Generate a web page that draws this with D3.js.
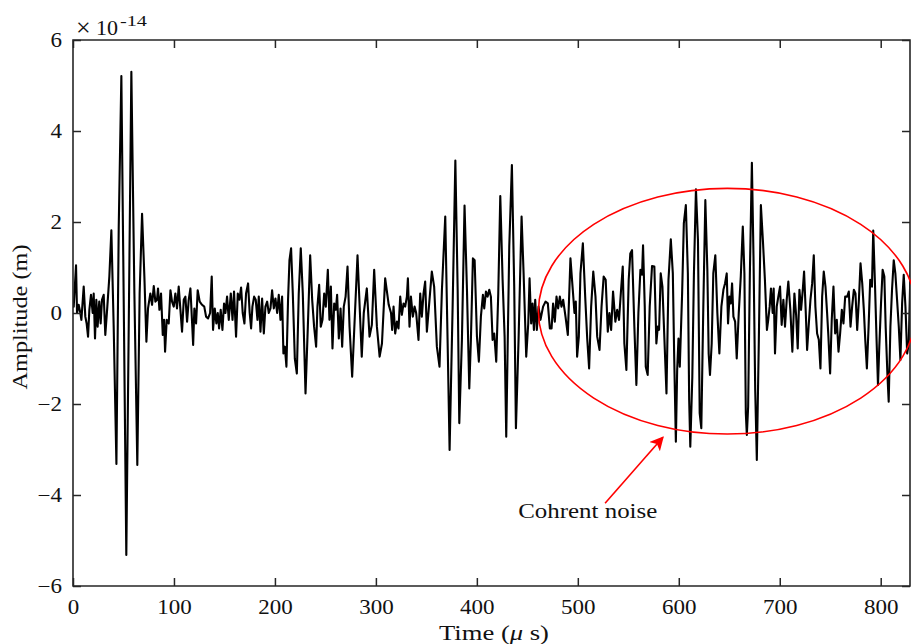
<!DOCTYPE html>
<html>
<head>
<meta charset="utf-8">
<script src="https://cdn.jsdelivr.net/npm/d3@7"></script>
<style>
  html, body { margin: 0; padding: 0; background: #fff; }
  svg { display: block; }
  text { font-family: "Liberation Serif", "Times New Roman", serif; fill: #111; }
</style>
</head>
<body>
<svg id="chart" width="911" height="644"></svg>
<script>
// ---- data (time in µs, amplitude in units of 1e-14 m) ----
const timeUs = [
0,0.7,3,4,5.6,7.3,8.3,10.6,12.2,13.5,14.9,16.2,17.8,19.5,20.5,21.8,23.1,24.4,26,27.4,28.7,30.4,32,34,36,38,40.3,43,45.3,47.9,50.5,52.8,55.2,57.8,60.8,63.7,66,68.4,70.7,72.7,74.3,76.6,78.3,80,81.6,83.2,84.2,85.6,87.2,88.9,90.2,91.2,92.8,94.8,96.5,98.1,99.8,101.4,103,104.7,106.4,108,109.7,111.3,113,114.6,116.3,118,119,120.2,121.9,123.5,125.5,127.8,130,131.8,133.8,135.8,137.4,138.7,140.4,142,143.4,144.7,146.3,148,149.6,151,152.6,154.3,156.3,158,159.5,161.5,163.2,164.8,166.5,168.1,169.8,171.4,173.4,175,176.4,177.7,179.4,181,182.7,184,185.7,187.3,189,190.6,192.3,193.9,195.6,197.2,198.9,200.5,202.2,203.8,205.5,207.1,208.4,209.8,211.4,213,214.4,216,217.7,219.7,221.7,223.6,225.6,227.6,230.3,232.6,234.9,236.9,238.8,240.8,242.1,243.8,245.4,247.1,248.8,250.4,252.4,254,255.4,257,258.7,260.3,261.6,263.3,265,266.6,268.2,270,271.9,273.9,276.5,
281.8,286,288,291,293.7,296,298.3,301,303.7,306,309.2,312.7,315,316.1,317.5,319.1,320.8,322.4,324.1,325.7,327.4,329,330.7,331.7,333.3,334.7,336.6,338.3,339.9,342.2,343.9,345.5,347.2,348.8,350.5,352.8,355.4,357.7,360.4,363,365.4,368.7,371,373,376,378.7,381,382.6,385.2,387.8,390.2,392.5,394.1,396.1,397.8,400.1,402,404,406,407.3,409,410.6,412.3,413.9,415.6,417.2,419.2,421.2,423.2,425.5,427.5,429.1,432.1,434.7,437,438.7,441.3,444.3,446.3,448.9,450.9,452.2,453.8,455.2,456.5,457.8,459.4,461.1,
463,465.6,468,470.3,472.3,474,475.5,477.2,478.9,480.5,482.2,483.8,485.5,487.8,490.1,492.7,495,496.7,498,499.3,501,502.6,505,507.3,509.3,511.2,513.2,515.3,517.5,519.2,521.5,523.5,525.6,527.6,529.7,531.3,533,534.9,537.2,539,540.8,542.8,544.5,546.1,548.1,550.4,552,
553.7,556,558,560,562,563.6,564.6,566.3,567.3,569.2,571.2,573.5,575.8,577.8,579.2,580.5,582.1,583.8,585.8,587.8,589.8,592.1,594.1,595.4,597.1,598.4,599.7,601,603.3,605,607,609,610.3,611.4,613.4,615,617,619,620.7,622.3,624.3,626.3,628.3,629.6,630.9,632.6,634.2,636.2,638.2,640.2,642.2,644.2,645.8,647.5,648.8,650.2,651.5,652.8,654.1,655.8,657.4,659.4,661.4,663.4,665,666.4,667.4,668.7,670.4,672.4,674,675.7,677.3,679.3,681.3,683.3,685.3,687.3,688.6,690,691.3,693,694,695.3,697,698.6,700.3,701.9,703.6,705.2,706.9,708.5,710.5,712.5,714.5,716.2,717.8,719.5,721.1,722.8,724.1,725.8,727.1,728.8,730.4,732.1,733.7,735.3,737,738.7,740.3,742,743.6,745.3,746.9,748.2,749.9,751.5,753.2,754.9,756.5,758.2,759.8,761.5,763.1,764.8,766.8,768.4,770.1,771.7,773.4,775,776.7,778.4,780,781.7,783.3,784.7,786.3,788,789.6,791.3,792.6,794.3,795.9,797.3,798.6,800.3,801.9,803.6,804.9,806.6,807.9,809.6,811.2,812.9,814.5,816.2,817.9,819.5,821.2,822.8,824.5,826.2,827.8,829.8,831
];
const amplitude = [
0.29,0.14,1.05,0,0.18,0,-0.15,0.58,-0.08,-0.23,-0.52,0.07,0.4,0,0.43,-0.56,0.29,-0.3,0.25,-0.23,0.29,0.4,-0.48,0.14,0.8,1.82,-0.3,-3.32,1.9,5.21,-0.3,-5.32,-0.3,5.3,0.43,-3.34,0.43,2.18,0.8,-0.63,0.1,0.43,0.18,0.59,0.25,0.29,0.54,0.07,0.43,-0.48,-0.15,-0.85,-0.15,-0.23,0.5,0.25,0.14,0.43,0.1,0.58,0.07,-0.41,0.29,0.36,-0.19,0.29,0.54,-0.23,-0.7,0.1,-0.23,0.5,0.25,0.18,0.14,-0.08,-0.12,0,0.8,-0.37,0.1,-0.23,0,-0.34,0.07,-0.37,0.21,0,0.36,-0.15,0.43,-0.15,0.47,-0.52,0.43,0.29,0.56,0,-0.23,0.43,0.65,0,-0.34,0.14,0.36,0.29,-0.15,0.36,-0.41,0.32,-0.45,0.14,0.25,0,0.1,0.5,0.1,0.32,0,0.4,-0.15,0.36,-0.89,-0.74,-1.18,0.29,1.16,1.42,0.43,-1.0,-1.33,0.43,1.42,0.43,-1.77,-0.3,1.27,0.29,-0.3,-0.74,0.14,0.62,-0.3,-0.15,0.43,0.14,0.95,-0.15,0.58,-0.78,0.21,0.07,0.4,-0.56,0.1,-0.74,0.14,0.36,1.02,-0.3,-1.4,
1.27,-0.96,0,0.54,-0.52,-0.26,0.95,-0.3,-0.96,-0.67,0.76,0.18,0,-0.37,0.14,-0.45,-0.19,-0.34,0.36,-0.04,0.21,0.14,0.36,0.76,-0.3,0.36,-0.08,0.14,0,-0.59,0.43,-0.08,0.43,0.69,-0.41,0.21,0.91,0.58,-0.74,-1.18,0.51,2.12,-0.59,-3.01,0.14,3.35,0.5,-2.42,-0.59,2.36,0.51,-1.66,-0.59,1.2,1.16,-0.52,-1.07,-0.08,0.4,0.1,0.47,0.36,0.51,0.36,-0.59,-0.45,-1.07,0.43,2.57,0.73,-0.52,-2.72,1.46,3.25,0.58,-2.53,-0.59,2.12,0.87,-0.96,-0.23,0.76,-0.23,0.21,-0.37,0.29,-0.37,0.14,
-0.15,0.14,0.25,0.21,-0.34,-0.34,0.21,-0.19,0.36,0.1,0.36,0.14,0.29,-0.08,-0.48,1.2,0.51,0,0.25,-0.96,-0.52,0.87,1.53,0.36,-0.56,-1.22,0.14,0.91,0.36,-0.52,-0.81,0.14,0.8,0.73,-0.41,0,-0.37,0.47,-0.19,0.07,-0.15,0.5,1.02,-0.67,-1.25,0.73,1.31,
1.38,-0.3,-1.58,0,0.95,0.84,1.49,0.14,-1.18,-1.36,0.14,1.03,1.02,-0.67,-0.3,-0.37,0.87,0.58,-0.59,-1.77,0.73,1.62,0.87,-0.89,-2.83,-1.25,-0.56,-1.18,0.43,1.97,2.37,0.87,-1.91,-2.94,-1.4,0.87,2.72,1.6,-2.2,-2.53,0.14,2.48,0.95,-0.89,-1.36,-0.67,0.87,1.27,0,-0.89,0.14,0.51,0.65,0.87,-0.23,0.36,0.21,0.65,-0.08,-0.19,-1.0,0,0.8,1.9,0.87,-2.2,-2.68,-2.06,0.87,3.3,1.24,-1.69,-3.23,-0.59,2.37,1.6,0.73,-0.37,-0.15,0.14,0.54,0,0.54,-0.89,0.14,0.36,0.58,-0.26,0.29,-0.3,0.29,0.69,0.07,-0.85,0.43,-0.04,-0.78,0.51,0.07,0.51,0.91,0,-0.81,-0.23,0.29,0.65,1.27,0.14,-0.45,-0.59,-1.22,0.36,0.91,0.58,0,-0.52,-1.33,-0.15,0.58,-0.45,-0.15,-0.85,-0.45,0.07,-0.23,0.36,0.36,0.47,-0.3,0.14,0.51,0.43,-0.37,0.29,1.09,0.65,0.07,-0.59,-1.22,-0.3,0.73,0.58,1.81,0.65,-0.59,-1.58,-0.74,0.21,0.95,0.8,-0.3,-1.33,-1.95,-0.3,0.51,1.16,0.87,0.29,-0.3,-1.03,0.21,0.84,0.14,-0.89,-0.67,1.27,1.95
];
const xTicks = [0, 100, 200, 300, 400, 500, 600, 700, 800];
const yTicks = [-6, -4, -2, 0, 2, 4, 6];
const xLabel = "Time (";
const yLabel = "Amplitude (m)";
const annotationText = "Cohrent noise";

// ---- layout ----
const svg = d3.select("#chart");
const L = 73, R = 910, T = 40, B = 586;
const x = d3.scaleLinear().domain([0, 830]).range([L, R + 1]);
const y = d3.scaleLinear().domain([-6, 6]).range([B, T]);
const axisColor = "#262626";
const serif = '"Liberation Serif", "Times New Roman", serif';

svg.append("defs").append("clipPath").attr("id", "plotclip")
  .append("rect").attr("x", L).attr("y", T).attr("width", R - L).attr("height", B - T);

// signal
const pts = timeUs.map((t, i) => [t, amplitude[i]]);
svg.append("path")
  .datum(pts)
  .attr("clip-path", "url(#plotclip)")
  .attr("fill", "none")
  .attr("stroke", "#000")
  .attr("stroke-width", 2.1)
  .attr("stroke-linejoin", "round")
  .attr("d", d3.line().x(d => x(d[0])).y(d => y(d[1])));

// axes (MATLAB style: inward ticks, box)
const tickLen = 8;
const gx = svg.append("g").attr("transform", `translate(0,${B})`)
  .call(d3.axisBottom(x).tickValues(xTicks).tickSize(-tickLen).tickFormat(d3.format("d")));
const gy = svg.append("g").attr("transform", `translate(${L},0)`)
  .call(d3.axisLeft(y).tickValues(yTicks).tickSize(-tickLen).tickFormat(d3.format("d")));
const gxt = svg.append("g").attr("transform", `translate(0,${T})`)
  .call(d3.axisTop(x).tickValues(xTicks).tickSize(-tickLen).tickFormat(""));
const gyr = svg.append("g").attr("transform", `translate(${R},0)`)
  .call(d3.axisRight(y).tickValues(yTicks).tickSize(-tickLen).tickFormat(""));

[gx, gy, gxt, gyr].forEach(g => {
  g.select(".domain").remove();
  g.selectAll(".tick line").attr("stroke", axisColor).attr("stroke-width", 1.5);
  g.selectAll("text").attr("font-family", serif).attr("font-size", 20).attr("fill", "#111");
});
gx.selectAll(".tick text").attr("dy", "0").attr("y", 0)
  .attr("transform", "translate(0,28) scale(1.15,1)");
gy.selectAll(".tick text").attr("x", 0).attr("dy", "0.33em")
  .attr("transform", "translate(-11,0) scale(1.15,1)");

// box lines
svg.append("path")
  .attr("d", `M${L},${T}H${R}V${B}H${L}Z`)
  .attr("fill", "none").attr("stroke", axisColor).attr("stroke-width", 1.6);

// exponent label (×10^-14)
svg.append("text").attr("x", L + 3).attr("y", T - 4)
  .attr("font-family", serif).attr("font-size", 26).text("\u00D7");
svg.append("text").attr("x", L + 23).attr("y", T - 5)
  .attr("font-family", serif).attr("font-size", 21)
  .attr("textLength", 22).attr("lengthAdjust", "spacingAndGlyphs").text("10");
svg.append("text").attr("x", L + 47).attr("y", T - 14)
  .attr("font-family", serif).attr("font-size", 15)
  .attr("textLength", 27).attr("lengthAdjust", "spacingAndGlyphs").text("-14");

// axis titles
const xl = svg.append("text")
  .attr("x", 494).attr("y", 640)
  .attr("text-anchor", "middle")
  .attr("font-family", serif).attr("font-size", 20)
  .attr("textLength", 110).attr("lengthAdjust", "spacingAndGlyphs");
xl.append("tspan").text(xLabel);
xl.append("tspan").text("\u03BC").attr("font-style", "italic");
xl.append("tspan").text(" s)");

svg.append("text")
  .attr("transform", `translate(27,${(T + B) / 2 + 4}) rotate(-90)`)
  .attr("text-anchor", "middle")
  .attr("font-family", serif).attr("font-size", 20)
  .attr("textLength", 145).attr("lengthAdjust", "spacingAndGlyphs")
  .text(yLabel);

// annotation: ellipse + arrow + text (in data coordinates)
const ell = { t: 648, v: 0.04, rt: 187, rv: 2.7 };
svg.append("ellipse")
  .attr("cx", x(ell.t)).attr("cy", y(ell.v))
  .attr("rx", x(ell.t + ell.rt) - x(ell.t))
  .attr("ry", y(ell.v) - y(ell.v + ell.rv))
  .attr("fill", "none").attr("stroke", "#ff0000").attr("stroke-width", 1.6);

const arrowFrom = { t: 527, v: -4.18 }, arrowTo = { t: 584.3, v: -2.73 };
svg.select("defs").append("marker")
  .attr("id", "arrowhead").attr("viewBox", "0 0 10 10")
  .attr("refX", 9).attr("refY", 5)
  .attr("markerWidth", 14).attr("markerHeight", 14)
  .attr("markerUnits", "userSpaceOnUse")
  .attr("orient", "auto")
  .append("path").attr("d", "M0,0 L10,5 L0,10 L2.5,5 Z").attr("fill", "#ff0000");
svg.append("line")
  .attr("x1", x(arrowFrom.t)).attr("y1", y(arrowFrom.v))
  .attr("x2", x(arrowTo.t)).attr("y2", y(arrowTo.v))
  .attr("stroke", "#ff0000").attr("stroke-width", 1.6)
  .attr("marker-end", "url(#arrowhead)");

svg.append("text")
  .attr("x", x(441)).attr("y", y(-4.5))
  .attr("font-family", serif).attr("font-size", 20)
  .attr("textLength", 139).attr("lengthAdjust", "spacingAndGlyphs")
  .text(annotationText);
</script>
</body>
</html>
